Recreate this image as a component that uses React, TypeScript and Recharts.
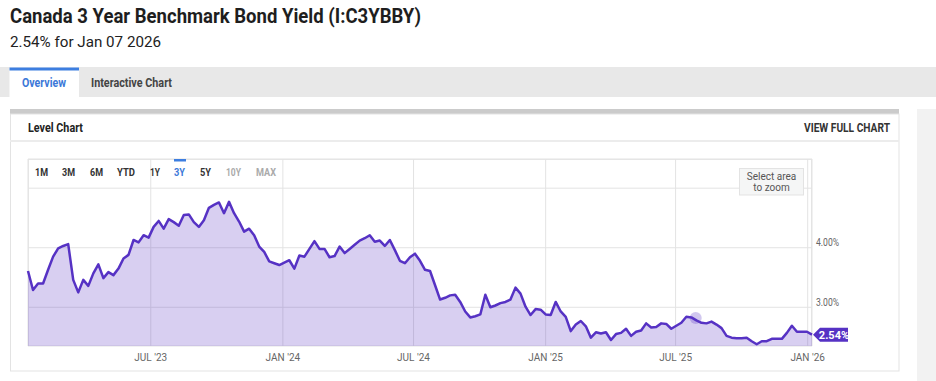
import { AreaChart, Area, XAxis, YAxis, CartesianGrid, ReferenceDot } from "recharts";

// weekly closes (last point = Jan 07 2026)
const lastDate = "2026-01-07";
const fromJan2023 = [3.61, 3.29, 3.40, 3.40, 3.63, 3.85, 3.99, 4.03, 4.06, 3.46, 3.25, 3.46, 3.36, 3.57, 3.72, 3.49, 3.59, 3.54, 3.65, 3.82, 3.88, 4.13, 4.09, 4.21, 4.17, 4.35, 4.45, 4.32, 4.48, 4.43, 4.37, 4.55, 4.56];
const fromAug2023 = [4.43, 4.35, 4.46, 4.67, 4.72, 4.76, 4.58, 4.77, 4.58, 4.44, 4.27, 4.32, 4.21, 4.02, 3.93, 3.77, 3.74, 3.71, 3.75, 3.79, 3.65, 3.87, 3.85, 3.98, 4.11, 3.98, 3.98, 3.84, 3.86, 4.02, 3.91, 3.98];
const fromApr2024 = [4.05, 4.12, 4.16, 4.21, 4.10, 4.12, 4.03, 4.13, 3.96, 3.78, 3.74, 3.84, 3.90, 3.78, 3.63, 3.61, 3.37, 3.13, 3.16, 3.20, 3.21, 3.09, 2.93, 2.83, 2.85, 2.88, 3.21, 3.00, 3.03, 3.07, 3.09, 3.13];
const fromNov2024 = [3.33, 3.23, 3.01, 2.87, 2.97, 2.96, 2.88, 2.87, 3.09, 2.93, 2.84, 2.60, 2.71, 2.77, 2.68, 2.49, 2.58, 2.56, 2.58, 2.45, 2.55, 2.57, 2.64, 2.52, 2.59, 2.61, 2.73, 2.66, 2.67, 2.73, 2.72, 2.64];
const fromJul2025 = [2.69, 2.74, 2.84, 2.83, 2.78, 2.74, 2.73, 2.76, 2.71, 2.65, 2.52, 2.49, 2.48, 2.48, 2.49, 2.43, 2.38, 2.43, 2.43, 2.47, 2.47, 2.47, 2.57, 2.69, 2.59, 2.59, 2.59, 2.54];

const tickDates = ["2023-07-01", "2024-01-01", "2024-07-01", "2025-01-01", "2025-07-01", "2026-01-01"];
const tickLabels = ["JUL '23", "JAN '24", "JUL '24", "JAN '25", "JUL '25", "JAN '26"];
const yTicks = [3, 4, 5];
const yLabels = ["3.00%", "4.00%", ""];
const ranges = ["1M", "3M", "6M", "YTD", "1Y", "3Y", "5Y", "10Y", "MAX"];
const activeRange = "3Y";
const disabledRanges = ["10Y", "MAX"];
const hoverDate = "2025-07-29";
const hoverValue = 2.82;

const WEEK = 7 * 86400000;
const endTs = Date.parse(lastDate);
const yields = [...fromJan2023, ...fromAug2023, ...fromApr2024, ...fromNov2024, ...fromJul2025];
const data = yields.map((v, i) => ({ t: endTs - (yields.length - 1 - i) * WEEK, v }));
const xTicks = tickDates.map((d) => Date.parse(d));
const lastValue = yields[yields.length - 1];

const PURPLE = "#5632c4";
const FONT = "Roboto, sans-serif";

const T = ({ x, y, w, size, weight = 400, fill = "#222", anchor = "start", children }: any) => (
  <text x={x} y={y} fontSize={size} fontWeight={weight} fill={fill} textAnchor={anchor}
    textLength={w} lengthAdjust="spacingAndGlyphs" fontFamily={FONT}>
    {children}
  </text>
);

const XTick = ({ x, payload }: any) => {
  const i = xTicks.indexOf(payload.value);
  return (
    <text x={x} y={361} textAnchor="middle" fontSize={10} fill="#666" fontFamily={FONT}>
      {tickLabels[i]}
    </text>
  );
};

const YTick = ({ y, payload }: any) => {
  const label = yLabels[yTicks.indexOf(payload.value)];
  if (!label) return null;
  return (
    <T x={816} y={y - 1.5} w={23} size={10} fill="#666">{label}</T>
  );
};

const EndLabel = ({ cx, cy }: any) => (
  <g>
    <polygon
      points={`${cx + 1},${cy} ${cx + 8},${cy - 7} ${cx + 36},${cy - 7} ${cx + 36},${cy + 7} ${cx + 8},${cy + 7}`}
      fill={PURPLE}
    />
    <text x={cx + 22} y={cy + 4} textAnchor="middle" fontSize={11} fontWeight={700} fill="#fff" fontFamily={FONT}>
      {lastValue.toFixed(2)}%
    </text>
  </g>
);

const buttonPos = [[35, 13], [62, 13], [90, 13], [117, 18], [150, 10], [174, 11], [200, 11], [226, 15], [256, 20]];

export default function App() {
  return (
    <div style={{ position: "absolute", left: 0, top: 0, width: 936, height: 381, background: "#fff", overflow: "hidden" }}>
      <svg width={936} height={381} style={{ position: "absolute", left: 0, top: 0 }}>
        <T x={10} y={23} w={411} size={20} weight={700} fill="#1e1e1e">Canada 3 Year Benchmark Bond Yield (I:C3YBBY)</T>
        <T x={10} y={46.5} w={151} size={15} fill="#222">2.54% for Jan 07 2026</T>

        <rect x={0} y={67} width={936} height={30} fill="#e8e8e8" />
        <rect x={9.5} y={67.5} width={69.5} height={29.5} fill="#fff" />
        <rect x={9.5} y={67.5} width={69.5} height={3} fill="#3d7ee0" />
        <T x={22} y={86.5} w={44} size={12} weight={700} fill="#3b78d8">Overview</T>
        <T x={91} y={86.5} w={81} size={12} weight={700} fill="#444">Interactive Chart</T>

        <rect x={917} y={109} width={19} height={272} fill="#f2f2f2" />
        <rect x={10} y={109} width={889} height={5} fill="#cbcbcb" />
        <rect x={10.5} y={114} width={888.5} height={257} fill="#fff" stroke="#e3e3e3" />
        <T x={28} y={132} w={55} size={12.5} weight={700} fill="#222">Level Chart</T>
        <T x={804} y={132} w={86} size={12} weight={700} fill="#333">VIEW FULL CHART</T>
        <line x1={10} x2={899} y1={141} y2={141} stroke="#ececec" strokeWidth={2} />

        <line x1={28} x2={812} y1={159.5} y2={159.5} stroke="#e6e6e6" />
        <line x1={28.5} x2={28.5} y1={159} y2={346} stroke="#e6e6e6" />
        <line x1={811.5} x2={811.5} y1={159} y2={346} stroke="#e6e6e6" />
      </svg>

      <div style={{ position: "absolute", left: 0, top: 0 }}>
        <AreaChart width={936} height={381} data={data} margin={{ top: 159, left: 28, right: 0, bottom: 0 }}>
          <CartesianGrid stroke="#e3e3e3" />
          <XAxis dataKey="t" type="number" domain={[data[0].t, endTs]} ticks={xTicks}
            axisLine={false} tickLine={false} height={35} tick={<XTick />} interval={0} />
          <YAxis orientation="right" domain={[2.35, 5.49]} ticks={yTicks} width={124}
            axisLine={false} tickLine={false} tick={<YTick />} allowDataOverflow />
          <Area type="linear" dataKey="v" stroke={PURPLE} strokeWidth={2.5} strokeLinejoin="round" fill="#5b35c4"
            fillOpacity={0.24} dot={false} activeDot={false} isAnimationActive={false} />
          <ReferenceDot x={Date.parse(hoverDate)} y={hoverValue} r={6} fill="#5b35c4" fillOpacity={0.28} stroke="none" />
          <ReferenceDot x={endTs} y={lastValue} shape={(p: any) => <EndLabel {...p} />} />
        </AreaChart>
      </div>

      <svg width={936} height={381} style={{ position: "absolute", left: 0, top: 0, pointerEvents: "none" }}>
        {ranges.map((r, i) => (
          <T key={r} x={buttonPos[i][0]} y={176} w={buttonPos[i][1]} size={11} weight={700}
            fill={r === activeRange ? "#3b78d8" : disabledRanges.includes(r) ? "#aaa" : "#333"}>
            {r}
          </T>
        ))}
        <rect x={174} y={159} width={12} height={2.5} fill="#3d7ee0" />
        <rect x={739.5} y={168.5} width={64} height={26.5} fill="#f5f6f6" stroke="#e3e3e3" />
        <text x={771.5} y={180} textAnchor="middle" fontSize={10} fill="#555" fontFamily={FONT}>Select area</text>
        <text x={771.5} y={191} textAnchor="middle" fontSize={10} fill="#555" fontFamily={FONT}>to zoom</text>
      </svg>
    </div>
  );
}
